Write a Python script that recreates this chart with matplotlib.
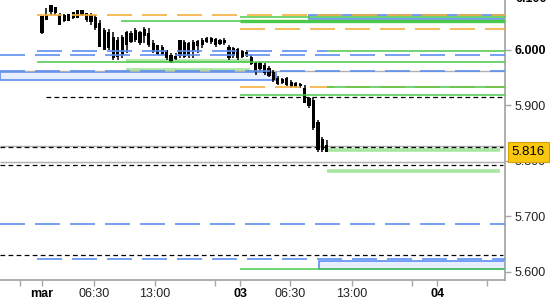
import matplotlib
matplotlib.use("Agg")
import matplotlib.pyplot as plt
from matplotlib.patches import Rectangle
from matplotlib.transforms import offset_copy

plt.rcParams['font.family'] = ['Liberation Sans', 'DejaVu Sans']
plt.rcParams['lines.scale_dashes'] = False

# ---- candle data (30-min bars) ----
highs = [6.061, 6.076, 6.081, 6.078, 6.067, 6.065, 6.065, 6.069, 6.072, 6.072,
         6.067, 6.067, 6.063, 6.054, 6.040, 6.038, 6.032, 6.023, 6.027, 6.034,
         6.034, 6.040, 6.034, 6.042, 6.040, 6.018, 6.009, 6.009, 6.000, 5.995,
         5.995, 6.018, 6.018, 6.014, 6.018, 6.018, 6.022, 6.023, 6.023, 6.022,
         6.020, 6.022, 6.009, 6.005, 6.004, 6.000, 6.000, 5.991, 5.978, 5.978,
         5.977, 5.971, 5.964, 5.953, 5.949, 5.951, 5.946, 5.942, 5.940, 5.937,
         5.915, 5.913, 5.874, 5.843, 5.838]
lows = [6.029, 6.054, 6.063, 6.063, 6.045, 6.051, 6.052, 6.056, 6.058, 6.061,
        6.051, 6.045, 6.036, 6.005, 6.000, 6.000, 5.982, 5.982, 5.986, 5.995,
        6.013, 6.014, 6.009, 6.013, 6.005, 5.995, 5.991, 5.991, 5.982, 5.977,
        5.982, 5.986, 5.986, 5.986, 5.986, 5.995, 6.004, 6.013, 6.011, 6.005,
        6.009, 6.009, 5.982, 5.986, 5.982, 5.986, 5.987, 5.973, 5.955, 5.962,
        5.955, 5.951, 5.942, 5.937, 5.939, 5.935, 5.931, 5.931, 5.931, 5.904,
        5.895, 5.856, 5.816, 5.816, 5.816]
opens = [6.061, 6.063, 6.081, 6.078, 6.063, 6.063, 6.065, 6.069, 6.072, 6.072,
         6.067, 6.063, 6.060, 6.049, 6.036, 6.032, 6.023, 6.018, 6.023, 6.032,
         6.031, 6.036, 6.032, 6.038, 6.031, 6.013, 6.009, 6.005, 6.000, 5.991,
         5.989, 6.018, 6.014, 6.013, 6.014, 6.016, 6.018, 6.022, 6.022, 6.020,
         6.018, 6.018, 6.005, 6.004, 6.002, 5.998, 5.996, 5.987, 5.977, 5.977,
         5.973, 5.968, 5.960, 5.949, 5.948, 5.949, 5.942, 5.940, 5.939, 5.931,
         5.913, 5.910, 5.870, 5.839, 5.829]
closes = [6.031, 6.054, 6.069, 6.067, 6.045, 6.052, 6.052, 6.058, 6.058, 6.063,
          6.054, 6.051, 6.040, 6.005, 6.000, 6.004, 5.986, 5.987, 5.991, 6.009,
          6.014, 6.018, 6.013, 6.025, 6.009, 5.996, 5.993, 5.993, 5.986, 5.978,
          5.984, 5.989, 5.987, 5.989, 6.000, 6.007, 6.009, 6.014, 6.014, 6.009,
          6.011, 6.013, 5.986, 5.989, 5.986, 5.987, 5.989, 5.975, 5.960, 5.966,
          5.958, 5.953, 5.946, 5.939, 5.940, 5.937, 5.933, 5.933, 5.935, 5.904,
          5.899, 5.859, 5.820, 5.820, 5.816]
last_price = 5.816

# ---- axis labels ----
x_tick_labels = ['mar', '06:30', '13:00', '03', '06:30', '13:00', '04']
x_tick_bold = [True, False, False, True, False, False, True]
y_ticks = [5.6, 5.7, 5.8, 5.9, 6.0]
y_top_label = 6.1

# ---- horizontal levels ----
orange_levels = [6.063, 6.037, 5.934]
blue_levels = [5.998, 5.991, 5.962, 5.686, 5.623]
green_levels = [6.060, 6.052, 5.998, 5.978, 5.933, 5.918, 5.605]
thick_green_levels = [6.052]
lightgreen_levels = [5.980, 5.963, 5.820, 5.781]
black_levels = [5.915, 5.825, 5.792, 5.631]
grey_levels = [5.962, 5.826, 5.798]
zone_tops = [5.961, 6.063, 5.619]
zone_bottoms = [5.945, 6.056, 5.605]

# ---- layout (positions in bar units) ----
X0, X1 = -9.44, 104.04
Y0, Y1 = 5.5850, 6.0902
x_tick_pos = [0, 11.7, 25.4, 44.5, 55.7, 69.7, 88.8]
x_minor_pos = [-4.9, 38.9, 83.1, 100.0]
orange_start = [-1.1, 44.5, 44.5]
blue_span = [(-1.1, 64.0), (X0, X1), (X0, X1), (X0, X1), (-1.1, X1)]
green_start = [44.5, 17.8, 64.0, -1.1, 64.0, 44.5, 44.5]
lightgreen_span = [(18.9, 46.7), (18.9, 46.7), (64.0, 102.9), (64.0, 102.9)]
black_start = [0.9, X0, X0, X0]
zone_span = [(X0, 52.6), (60.0, X1), (62.2, X1)]

ORANGE = '#f4b13d'
BLUE = '#5f8ff0'
GREEN = '#4bc94b'
LGREEN = '#a8e6a2'
GREY = '#b0b0b0'

fig = plt.figure(figsize=(5.5, 3.0), dpi=100)
ax = fig.add_axes([0, 20 / 300, 505 / 550, 280 / 300])

# zones
for top, bot, (a, b) in zip(zone_tops, zone_bottoms, zone_span):
    ax.add_patch(Rectangle((a, bot), b - a, top - bot, facecolor='#e6eeff',
                           edgecolor=BLUE, lw=1.2, zorder=1))

for y, (a, b) in zip(lightgreen_levels, lightgreen_span):
    ax.hlines(y, a, b, color=LGREEN, lw=2.6, zorder=1.5)

for y in grey_levels:
    ax.hlines(y, X0, X1, color=GREY, lw=1.0, zorder=1.6)

# candles
xs = list(range(len(highs)))
ax.vlines(xs, lows, highs, color='black', lw=1.1, zorder=2)
bodies = [abs(c - o) if abs(c - o) > 0.001 else 0.001 for o, c in zip(opens, closes)]
bottoms = [min(o, c) for o, c in zip(opens, closes)]
ax.bar(xs, bodies, bottom=bottoms, width=0.72, color='black', lw=0, zorder=2)

# lines
for y, a in zip(orange_levels, orange_start):
    ax.hlines(y, a, X1, color=ORANGE, lw=1.2, linestyles=(0, (18, 7.2)), zorder=3)
for y, (a, b) in zip(blue_levels, blue_span):
    ax.hlines(y, a, b, color=BLUE, lw=1.2, linestyles=(0, (18, 7.2)), zorder=3)
for y, a in zip(green_levels, green_start):
    ax.hlines(y, a, X1, color=GREEN, lw=1.1, zorder=3)
for y in thick_green_levels:
    ax.hlines(y, 44.5, X1, color=GREEN, lw=2.4, zorder=3)
for y, a in zip(black_levels, black_start):
    ax.hlines(y, a, X1 - 0.4, color='black', lw=0.9, linestyles=(0, (3.4, 2.4)), zorder=3)

# spines
for s in ['top', 'left']:
    ax.spines[s].set_visible(False)
for s in ['right', 'bottom']:
    ax.spines[s].set_color('#a8a8a8')
    ax.spines[s].set_linewidth(1.3)

ax.yaxis.tick_right()
ax.set_yticks(y_ticks)
ax.set_yticklabels(['%.3f' % v for v in y_ticks])
ax.tick_params(axis='y', length=4, width=1, color='#a8a8a8', pad=3,
               labelsize=9, labelcolor='#222222')
for lab, v in zip(ax.get_yticklabels(), y_ticks):
    if abs(v - 6.0) < 1e-9:
        lab.set_color('black')
        lab.set_fontweight('bold')

ax.set_xticks(x_tick_pos)
ax.set_xticklabels(x_tick_labels)
ax.set_xticks(x_minor_pos, minor=True)
ax.tick_params(axis='x', which='both', length=4, width=1, color='#a8a8a8', pad=2,
               labelsize=9, labelcolor='#222222')
for lab, b in zip(ax.get_xticklabels(), x_tick_bold):
    if b:
        lab.set_fontweight('bold')
        lab.set_color('black')

# limits after ticks (set_ticks may expand the view)
ax.set_xlim(X0, X1)
ax.set_ylim(Y0, Y1)

# partially visible top price label (cut by the figure's top edge)
top_trans = offset_copy(ax.get_yaxis_transform(), fig=fig, x=10, y=-4, units='dots')
ax.text(1.0, y_top_label, '%.3f' % y_top_label, transform=top_trans,
        ha='left', va='center', fontsize=9, color='black', fontweight='bold',
        clip_on=False)

# last-price marker
ax.text(1.013, last_price, '%.3f' % last_price, transform=ax.get_yaxis_transform(),
        ha='left', va='center', fontsize=9.5, color='black', zorder=10,
        bbox=dict(boxstyle='square,pad=0.3', fc='#f9c80e', ec='#d8a000', lw=0.8),
        clip_on=False)

fig.savefig('out.png', dpi=100)
